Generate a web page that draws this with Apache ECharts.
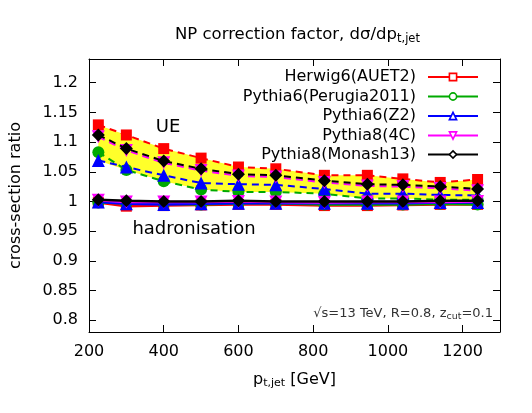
<!DOCTYPE html>
<html><head><meta charset="utf-8">
<script src="https://cdn.jsdelivr.net/npm/echarts@6/dist/echarts.min.js"></script>
<style>html,body{margin:0;padding:0;background:#fff}#c{width:532px;height:413px}</style>
</head><body><div id="c"></div>
<script>
const ptBins = [225, 300, 400, 500, 600, 700, 830, 945, 1040, 1140, 1240];
const generators = ['Herwig6(AUET2)', 'Pythia6(Perugia2011)', 'Pythia6(Z2)', 'Pythia8(4C)', 'Pythia8(Monash13)'];
const hadHerwig   = [0.998, 0.992, 0.993, 0.994, 0.995, 0.995, 0.993, 0.993, 0.994, 0.995, 0.995];
const hadPerugia  = [0.998, 0.997, 0.996, 0.995, 0.997, 0.997, 0.995, 0.995, 0.995, 0.996, 0.995];
const hadZ2       = [0.999, 0.996, 0.995, 0.996, 0.997, 0.997, 0.997, 0.997, 0.997, 0.998, 0.998];
const had4C       = [1.002, 0.999, 0.999, 0.999, 1.000, 0.999, 0.998, 0.999, 0.999, 0.999, 1.000];
const hadMonash   = [1.003, 1.001, 1.000, 1.000, 1.001, 1.000, 1.000, 1.000, 1.000, 1.001, 1.001];
const ueHerwig    = [1.129, 1.112, 1.089, 1.073, 1.058, 1.055, 1.044, 1.044, 1.038, 1.032, 1.037];
const uePerugia   = [1.083, 1.053, 1.034, 1.020, 1.016, 1.016, 1.013, 1.005, 1.005, 1.003, 1.003];
const ueZ2        = [1.069, 1.058, 1.044, 1.031, 1.029, 1.028, 1.021, 1.013, 1.013, 1.011, 1.010];
const ue4C        = [1.109, 1.086, 1.065, 1.052, 1.043, 1.041, 1.032, 1.026, 1.025, 1.022, 1.018];
const ueMonash    = [1.112, 1.089, 1.068, 1.055, 1.046, 1.044, 1.035, 1.029, 1.028, 1.025, 1.021];
const yTicks = [0.8, 0.85, 0.9, 0.95, 1, 1.05, 1.1, 1.15, 1.2];
const xTicks = [200, 400, 600, 800, 1000, 1200];

const hadAll = [hadHerwig, hadPerugia, hadZ2, had4C, hadMonash];
const ueAll = [ueHerwig, uePerugia, ueZ2, ue4C, ueMonash];
const colors = ['#ff0000', '#00aa00', '#0000ff', '#ff00ff', '#000000'];
const symbols = ['rect', 'circle', 'triangle', 'path://M0,0 L10,0 L5,10 Z', 'diamond'];
const sizes = [11, 12, 13, 13, 13];
const FONT = 'DejaVu Sans';

const ueMin = ptBins.map((_, i) => Math.min(...ueAll.map(a => a[i])));
const ueMax = ptBins.map((_, i) => Math.max(...ueAll.map(a => a[i])));
const bandData = ptBins.map((x, i) => [x, ueMin[i], ueMax[i]]);

const series = [{
  type: 'custom', silent: true, z: 1, data: bandData, encode: { x: 0, y: [1, 2] },
  renderItem: function (params, api) {
    if (params.dataIndex !== 0) return null;
    const upper = bandData.map(d => api.coord([d[0], d[2]]));
    const lower = bandData.map(d => api.coord([d[0], d[1]])).reverse();
    return { type: 'polygon', shape: { points: upper.concat(lower) }, style: { fill: '#ffff2a' } };
  }
}];
generators.forEach((g, k) => {
  series.push({
    type: 'line', name: g, data: ptBins.map((x, i) => [x, hadAll[k][i]]),
    symbol: symbols[k], symbolSize: sizes[k], z: 3 + k,
    itemStyle: { color: colors[k] }, lineStyle: { color: colors[k], width: 2.5 }
  });
  series.push({
    type: 'line', name: g, data: ptBins.map((x, i) => [x, ueAll[k][i]]),
    symbol: symbols[k], symbolSize: sizes[k], z: 3 + k,
    itemStyle: { color: colors[k] }, lineStyle: { color: colors[k], width: 2, type: [7, 5] }
  });
});

const legendCenters = [77, 96.5, 116, 135.5, 154.5];
const legends = generators.map((g, k) => ({
  data: [{ name: g }],
  orient: 'vertical', right: 53, top: legendCenters[k] - 8, align: 'right', padding: 0,
  itemWidth: 50, itemHeight: 9, selectedMode: false,
  textStyle: { fontFamily: FONT, fontSize: 16, color: '#000', lineHeight: 16, padding: [0, 7, 0, 0] },
  itemStyle: { color: '#fff', borderColor: colors[k], borderWidth: 1.6 },
  lineStyle: { color: colors[k], width: 2, type: 'solid' }
}));

const chart = echarts.init(document.getElementById('c'), null, { renderer: 'canvas' });
chart.setOption({
  animation: false,
  backgroundColor: '#fff',
  title: {
    text: 'NP correction factor, dσ/dp{s|t,jet}', left: 170, top: 20,
    textStyle: { fontFamily: FONT, fontSize: 16.5, fontWeight: 'normal', color: '#000',
      rich: { s: { fontFamily: FONT, fontSize: 11.5, verticalAlign: 'bottom', padding: [8, 0, 0, 0] } } }
  },
  legend: legends,
  grid: { left: 89, right: 32, top: 59, bottom: 81, outerBoundsMode: 'none' },
  xAxis: [
    { type: 'value', min: 200, max: 1300, interval: 200, position: 'bottom',
      axisLine: { lineStyle: { color: '#000', width: 1 } },
      axisTick: { inside: true, length: 7, lineStyle: { color: '#000' }, customValues: xTicks },
      axisLabel: { fontFamily: FONT, fontSize: 16, color: '#000', margin: 12, customValues: xTicks, formatter: v => String(v) },
      splitLine: { show: false },
      name: 'p{s|t,jet} [GeV]', nameLocation: 'middle', nameGap: 38,
      nameTextStyle: { fontFamily: FONT, fontSize: 16, color: '#000',
        rich: { s: { fontFamily: FONT, fontSize: 11, verticalAlign: 'bottom', padding: [8, 0, 0, 0] } } } },
    { type: 'value', min: 200, max: 1300, interval: 200, position: 'top',
      axisLine: { lineStyle: { color: '#000', width: 1 } },
      axisTick: { inside: true, length: 7, lineStyle: { color: '#000' }, customValues: xTicks },
      axisLabel: { show: false }, splitLine: { show: false } }
  ],
  yAxis: [
    { type: 'value', min: 0.78, max: 1.24, position: 'left',
      axisLine: { show: true, lineStyle: { color: '#000', width: 1 } },
      axisTick: { show: true, inside: true, length: 7, lineStyle: { color: '#000' }, customValues: yTicks },
      axisLabel: { fontFamily: FONT, fontSize: 16, color: '#000', margin: 11, customValues: yTicks },
      splitLine: { show: false },
      name: 'cross-section ratio', nameLocation: 'middle', nameGap: 65, nameRotate: 90,
      nameTextStyle: { fontFamily: FONT, fontSize: 16, color: '#000' } },
    { type: 'value', min: 0.78, max: 1.24, position: 'right',
      axisLine: { show: true, lineStyle: { color: '#000', width: 1 } },
      axisTick: { show: true, inside: true, length: 7, lineStyle: { color: '#000' }, customValues: yTicks },
      axisLabel: { show: false }, splitLine: { show: false } }
  ],
  graphic: [
    { type: 'text', z: 100, x: 168, y: 127, style: { text: 'UE', fontFamily: FONT, fontSize: 18, fill: '#000', align: 'center', verticalAlign: 'middle' } },
    { type: 'text', z: 100, x: 194, y: 229, style: { text: 'hadronisation', fontFamily: FONT, fontSize: 18, fill: '#000', align: 'center', verticalAlign: 'middle' } },
    { type: 'text', z: 100, x: 493, y: 314, style: { text: '√s=13 TeV, R=0.8, z{s|cut}=0.1', fontFamily: FONT, fontSize: 13, fill: '#333', align: 'right', verticalAlign: 'middle',
      rich: { s: { fontFamily: FONT, fontSize: 9.5, fill: '#333', verticalAlign: 'bottom', padding: [6, 0, 0, 0] } } } }
  ],
  series: series
});
</script></body></html>
